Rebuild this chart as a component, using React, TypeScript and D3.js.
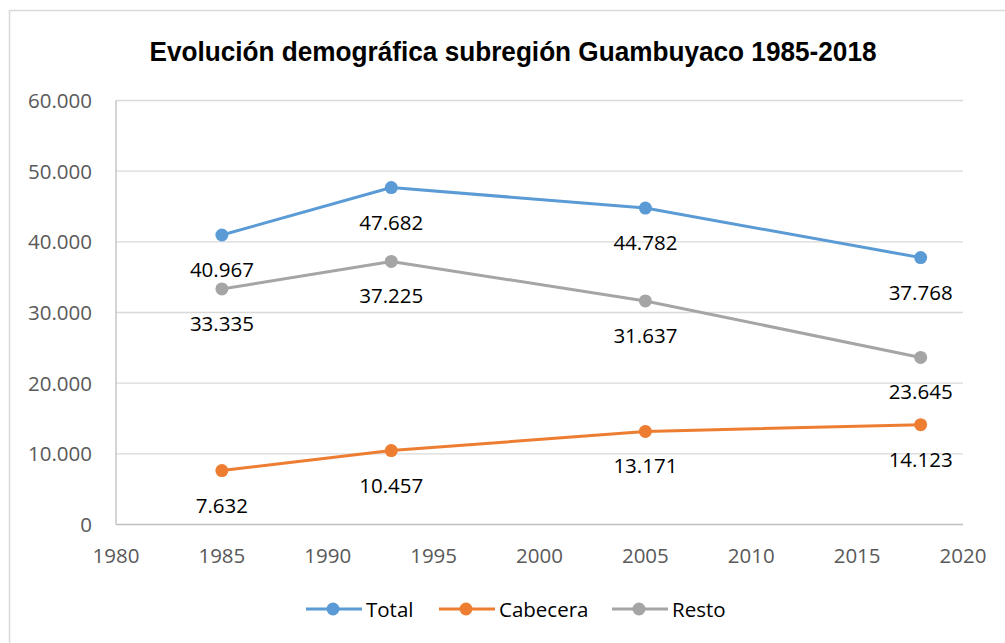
import React from "react";
import * as d3 from "d3";

const years = [1985, 1993, 2005, 2018];
const seriesNames = ["Total", "Cabecera", "Resto"];
const totalValues = [40967, 47682, 44782, 37768];
const cabeceraValues = [7632, 10457, 13171, 14123];
const restoValues = [33335, 37225, 31637, 23645];
const seriesColors = ["#5B9BD5", "#ED7D31", "#A5A5A5"];
const yTicks = [0, 10000, 20000, 30000, 40000, 50000, 60000];
const xTicks = [1980, 1985, 1990, 1995, 2000, 2005, 2010, 2015, 2020];
const title = "Evolución demográfica subregión Guambuyaco 1985-2018";

const width = 1005;
const height = 643;
const font = "'Open Sans', 'Noto Sans', sans-serif";

// es-CO style thousands: 40.967
const fmt = (v: number) => d3.format(",")(v).replace(/,/g, ".");

function App() {
  const x = d3.scaleLinear().domain([1980, 2020]).range([116, 963]);
  const y = d3.scaleLinear().domain([0, 60000]).range([524.5, 100.5]);
  const line = d3.line<number>().x((d, i) => x(years[i])).y(d => y(d));
  const series = [totalValues, cabeceraValues, restoValues];

  const legendX = [306, 439, 612];

  return (
    <svg width={width} height={height} style={{ position: "absolute", left: 0, top: 0 }}>
      <rect x={0} y={0} width={width} height={height} fill="#fff" />
      <rect x={9.5} y={10.5} width={1010} height={650} fill="#fff" stroke="#D9D9D9" strokeWidth={1.5} />
      <text x={513} y={61} textAnchor="middle" fontFamily="'Liberation Sans Narrow', 'Arial Narrow', 'Liberation Sans', sans-serif"
        fontWeight="bold" fontSize={28} fill="#000" textLength={727} lengthAdjust="spacingAndGlyphs">{title}</text>

      {yTicks.map(t => (
        <g key={t}>
          {t > 0 && <line x1={116} x2={963} y1={y(t)} y2={y(t)} stroke="#D9D9D9" strokeWidth={1.3} />}
          <text x={92} y={y(t) + 7.5} textAnchor="end" fontFamily={font} fontSize={20.5} fill="#595959">{fmt(t)}</text>
        </g>
      ))}
      <line x1={116} x2={116} y1={100.5} y2={524.5} stroke="#BFBFBF" strokeWidth={1.3} />
      <line x1={116} x2={963} y1={524.5} y2={524.5} stroke="#BFBFBF" strokeWidth={1.3} />
      {xTicks.map(t => (
        <text key={t} x={x(t)} y={562.5} textAnchor="middle" fontFamily={font} fontSize={20.5} fill="#595959">{t}</text>
      ))}

      {series.map((vals, s) => (
        <g key={seriesNames[s]}>
          <path d={line(vals) || ""} fill="none" stroke={seriesColors[s]} strokeWidth={3} strokeLinejoin="round" />
          {vals.map((v, i) => (
            <circle key={i} cx={x(years[i])} cy={y(v)} r={6.5} fill={seriesColors[s]} />
          ))}
          {vals.map((v, i) => (
            <text key={"l" + i} x={x(years[i])} y={y(v) + 42} textAnchor="middle" fontFamily={font} fontSize={20.5} fill="#000">{fmt(v)}</text>
          ))}
        </g>
      ))}

      {seriesNames.map((n, s) => (
        <g key={n} transform={`translate(${legendX[s]},609)`}>
          <line x1={0} x2={56} y1={0} y2={0} stroke={seriesColors[s]} strokeWidth={3} />
          <circle cx={27} cy={0} r={6.5} fill={seriesColors[s]} />
          <text x={60} y={7.5} fontFamily={font} fontSize={20.5} fill="#000">{n}</text>
        </g>
      ))}
    </svg>
  );
}

export default App;
